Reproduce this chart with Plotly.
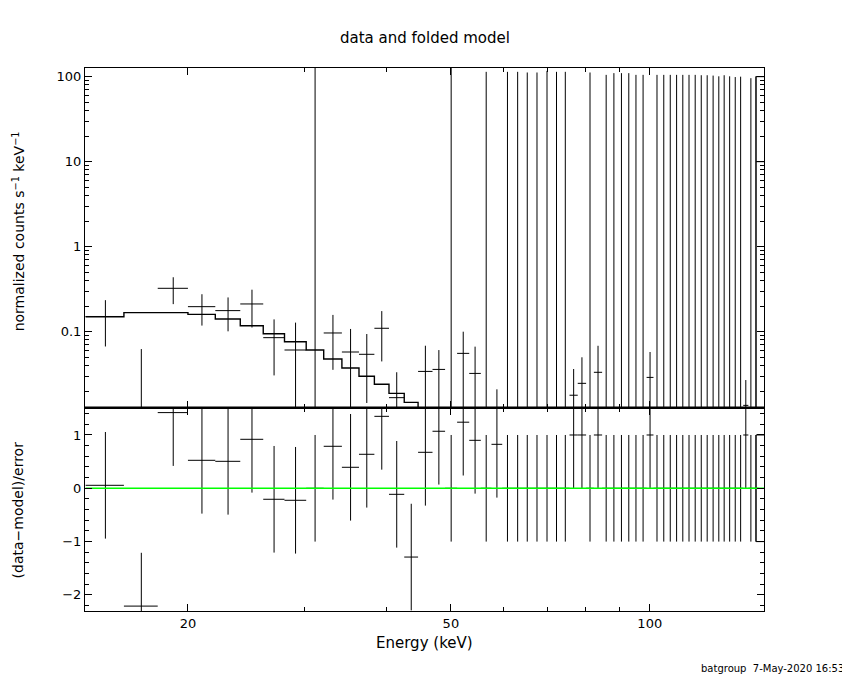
import plotly.graph_objects as go
from plotly.subplots import make_subplots

# bin edges (keV)
edges = [14.0, 16.0, 18.0, 20.0, 22.0, 24.0, 26.0, 28.0, 30.2, 32.1, 34.2, 36.3, 38.3, 40.3, 42.5, 44.6,
         46.9, 49.0, 51.1, 53.3, 55.5, 57.6, 59.8, 62.0, 64.2, 66.3, 68.7, 71.1, 73.4, 75.6, 77.8,
         80.1, 82.3, 84.7, 87.1, 89.4, 91.8, 94.1, 96.5, 98.9, 101.3, 103.8, 106.2, 108.6, 111.0,
         113.4, 115.9, 118.4, 120.9, 123.4, 126.0, 128.4, 130.8, 133.4, 136.0, 138.5, 141.0, 143.5, 146.1]

# normalized counts s^-1 keV^-1
rate = [0.151, -0.022, 0.324, 0.197, 0.177, 0.212, 0.0851, 0.0609, 0.0, 0.0966, 0.0577, 0.0542, 0.1097, 0.01675, 0.0,
        0.0341, 0.036, 0.0, 0.0556, 0.0323, 0.0, 0.0095, 0.0, 0.0, 0.0, 0.0, 0.0, 0.0, 0.0, 0.0179, 0.0247,
        0.0, 0.0333, 0.0, 0.0, 0.0, 0.0, 0.0, 0.0, 0.029, 0.0, 0.0, 0.0, 0.0, 0.0, 0.0, 0.0, 0.0, 0.0,
        0.0, 0.0, 0.0, 0.0, 0.0, 0.0, 0.0136, 0.0, 0.0]
rate_err = [0.084, 0.0845, 0.113, 0.079, 0.076, 0.1, 0.0545, 0.067, 300, 0.061, 0.05, 0.0397, 0.065, 0.0166, 0.0115,
            0.0343, 0.0248, 300, 0.0444, 0.0344, 114, 0.0115, 114, 114, 112, 112, 117, 114, 114, 0.0185, 0.0253,
            112, 0.035, 105, 110, 110, 110, 105, 105, 0.0287, 105, 105, 105, 105, 105, 105, 105, 104, 104,
            103, 101, 104, 101, 99, 100, 0.0134, 96, 101]

# folded model per bin
model = [0.150, 0.1675, 0.1675, 0.160, 0.141, 0.1177, 0.0947, 0.0763, 0.0609, 0.0477, 0.0374, 0.0299, 0.0241, 0.0188, 0.01476,
         0.0116, 0.0092, 0.0073, 0.0058, 0.0046, 0.0037, 0.0030, 0.0024, 0.0019, 0.0016, 0.0013, 0.0011, 0.0009,
         0.00075, 0.00063, 0.00053, 0.00045, 0.00038, 0.00032, 0.00027, 0.00023, 0.0002, 0.00017, 0.00015,
         0.00013, 0.00011, 0.0001, 0.00009, 0.00008, 0.00007, 0.00006, 0.00005, 0.000045, 0.00004, 0.000035,
         0.00003, 0.000027, 0.000024, 0.000021, 0.000019, 0.000017, 0.000015, 0.000013]

# (data-model)/error
resid = [0.056, -2.21, 1.42, 0.525, 0.506, 0.919, -0.206, -0.225, 0.0, 0.788, 0.394, 0.638, 1.35, -0.113, -1.29,
         0.675, 1.07, 0.0, 1.24, 0.9, 0.0, 0.825, 0.0, 0.0, 0.0, 0.0, 0.0, 0.0, 0.0, 1.0, 1.0,
         0.0, 1.0, 0.0, 0.0, 0.0, 0.0, 0.0, 0.0, 1.0, 0.0, 0.0, 0.0, 0.0, 0.0, 0.0, 0.0, 0.0, 0.0,
         0.0, 0.0, 0.0, 0.0, 0.0, 0.0, 1.0, 0.0, 0.0]
resid_err = [1.0] * len(resid)

# partial last bin at the right edge
edge_bin = [144.8, 152.0]
edge_rate = [10.0, 100.0]
edge_resid = [-1.0, 1.0]

FLOOR = 1e-5
centers = [(edges[i] + edges[i + 1]) / 2 for i in range(len(rate))]


def crosses(vals, errs, logy):
    xs, ys = [], []
    for i, c in enumerate(centers):
        v, e = vals[i], errs[i]
        lo, hi = v - e, v + e
        if logy:
            v, lo, hi = max(v, FLOOR), max(lo, FLOOR), max(hi, FLOOR)
        xs += [edges[i], edges[i + 1], None, c, c, None]
        ys += [v, v, None, lo, hi, None]
    return xs, ys


def edge_box(vals):
    xs = [edge_bin[1], edge_bin[0], None, edge_bin[0], edge_bin[1]]
    ys = [vals[0], vals[0], None, vals[1], vals[1]]
    return xs, ys


fig = make_subplots(rows=2, cols=1, shared_xaxes=True, vertical_spacing=0,
                    row_heights=[0.6256, 0.3744])

line_k = dict(color="black", width=1)

x1, y1 = crosses(rate, rate_err, True)
fig.add_trace(go.Scatter(x=x1, y=y1, mode="lines", line=line_k, hoverinfo="skip"), row=1, col=1)
bx, by = edge_box(edge_rate)
fig.add_trace(go.Scatter(x=bx + [None, edge_bin[0], edge_bin[0]], y=by + [None, FLOOR, edge_rate[1]],
                         mode="lines", line=line_k, hoverinfo="skip"), row=1, col=1)
fig.add_trace(go.Scatter(x=edges, y=model + [model[-1]], mode="lines", line_shape="hv",
                         line=dict(color="black", width=1.4), hoverinfo="skip"), row=1, col=1)

x2, y2 = crosses(resid, resid_err, False)
fig.add_trace(go.Scatter(x=x2, y=y2, mode="lines", line=line_k, hoverinfo="skip"), row=2, col=1)
rx, ry = edge_box(edge_resid)
fig.add_trace(go.Scatter(x=rx + [None, edge_bin[0], edge_bin[0]], y=ry + [None, edge_resid[0], edge_resid[1]],
                         mode="lines", line=line_k, hoverinfo="skip"), row=2, col=1)
fig.add_trace(go.Scatter(x=[edges[0], edges[-1] + 10], y=[0, 0], mode="lines",
                         line=dict(color="#00ff00", width=1.6), hoverinfo="skip"), row=2, col=1)

font = dict(family="DejaVu Sans", size=13, color="black")
font_lbl = dict(family="DejaVu Sans", size=15, color="black")
font_ylbl = dict(family="DejaVu Sans", size=14, color="black")
ax_common = dict(showline=True, linecolor="black", linewidth=1, mirror="allticks", ticks="inside",
                 tickcolor="black", ticklen=7, tickwidth=1, showgrid=False, zeroline=False,
                 tickfont=font)

xr = [1.14521, 2.17289]
x_minor = dict(tickvals=[30, 40, 60, 70, 80, 90], ticks="inside", ticklen=4, tickcolor="black")
fig.update_xaxes(type="log", range=xr, tickvals=[20, 50, 100], ticktext=["20", "50", "100"],
                 minor=x_minor, **ax_common)
fig.update_xaxes(showticklabels=False, row=1, col=1)

ymin = []
for d in [0.01, 0.1, 1, 10]:
    ymin += [d * k for k in range(2, 10)]
fig.update_yaxes(type="log", range=[-1.894, 2.102], tickvals=[0.1, 1, 10, 100],
                 ticktext=["0.1", "1", "10", "100"],
                 minor=dict(tickvals=ymin, ticks="inside", ticklen=4, tickcolor="black"),
                 row=1, col=1, **ax_common)
rmin = [round(-2.2 + 0.2 * k, 1) for k in range(19)]
rmin = [v for v in rmin if abs(v - round(v)) > 1e-6]
fig.update_yaxes(range=[-2.302, 1.512], tickvals=[-2, -1, 0, 1], ticktext=["\u22122", "\u22121", "0", "1"],
                 minor=dict(tickvals=rmin, ticks="inside", ticklen=4, tickcolor="black"),
                 row=2, col=1, **ax_common)

fig.add_shape(type="line", xref="paper", yref="paper", x0=0, x1=1, y0=0.3744, y1=0.3744,
              line=dict(color="black", width=2.5))

annots = [
    dict(text="data and folded model", x=0.5007, y=1.0552, font=font_lbl),
    dict(text="normalized counts s<sup>\u22121</sup> keV<sup>\u22121</sup>", x=-0.098, y=0.70,
         textangle=-90, font=font_ylbl),
    dict(text="(data\u2212model)/error", x=-0.098, y=0.186, textangle=-90, font=font_ylbl),
    dict(text="Energy (keV)", x=0.5007, y=-0.059, font=font_lbl),
    dict(text="batgroup  7-May-2020 16:53", x=1.121, y=-0.105, xanchor="right",
         font=dict(family="DejaVu Sans", size=10, color="black")),
]
for a in annots:
    a.setdefault("xanchor", "center")
    a.update(xref="paper", yref="paper", yanchor="middle", showarrow=False)
    fig.add_annotation(**a)

# page body adds an 8px offset, so the figure is 8px smaller and margins shifted
fig.update_layout(width=842, height=672, showlegend=False, plot_bgcolor="white", paper_bgcolor="white",
                  margin=dict(l=77, r=86, t=60, b=69), font=font)

fig.write_html("out.html")
